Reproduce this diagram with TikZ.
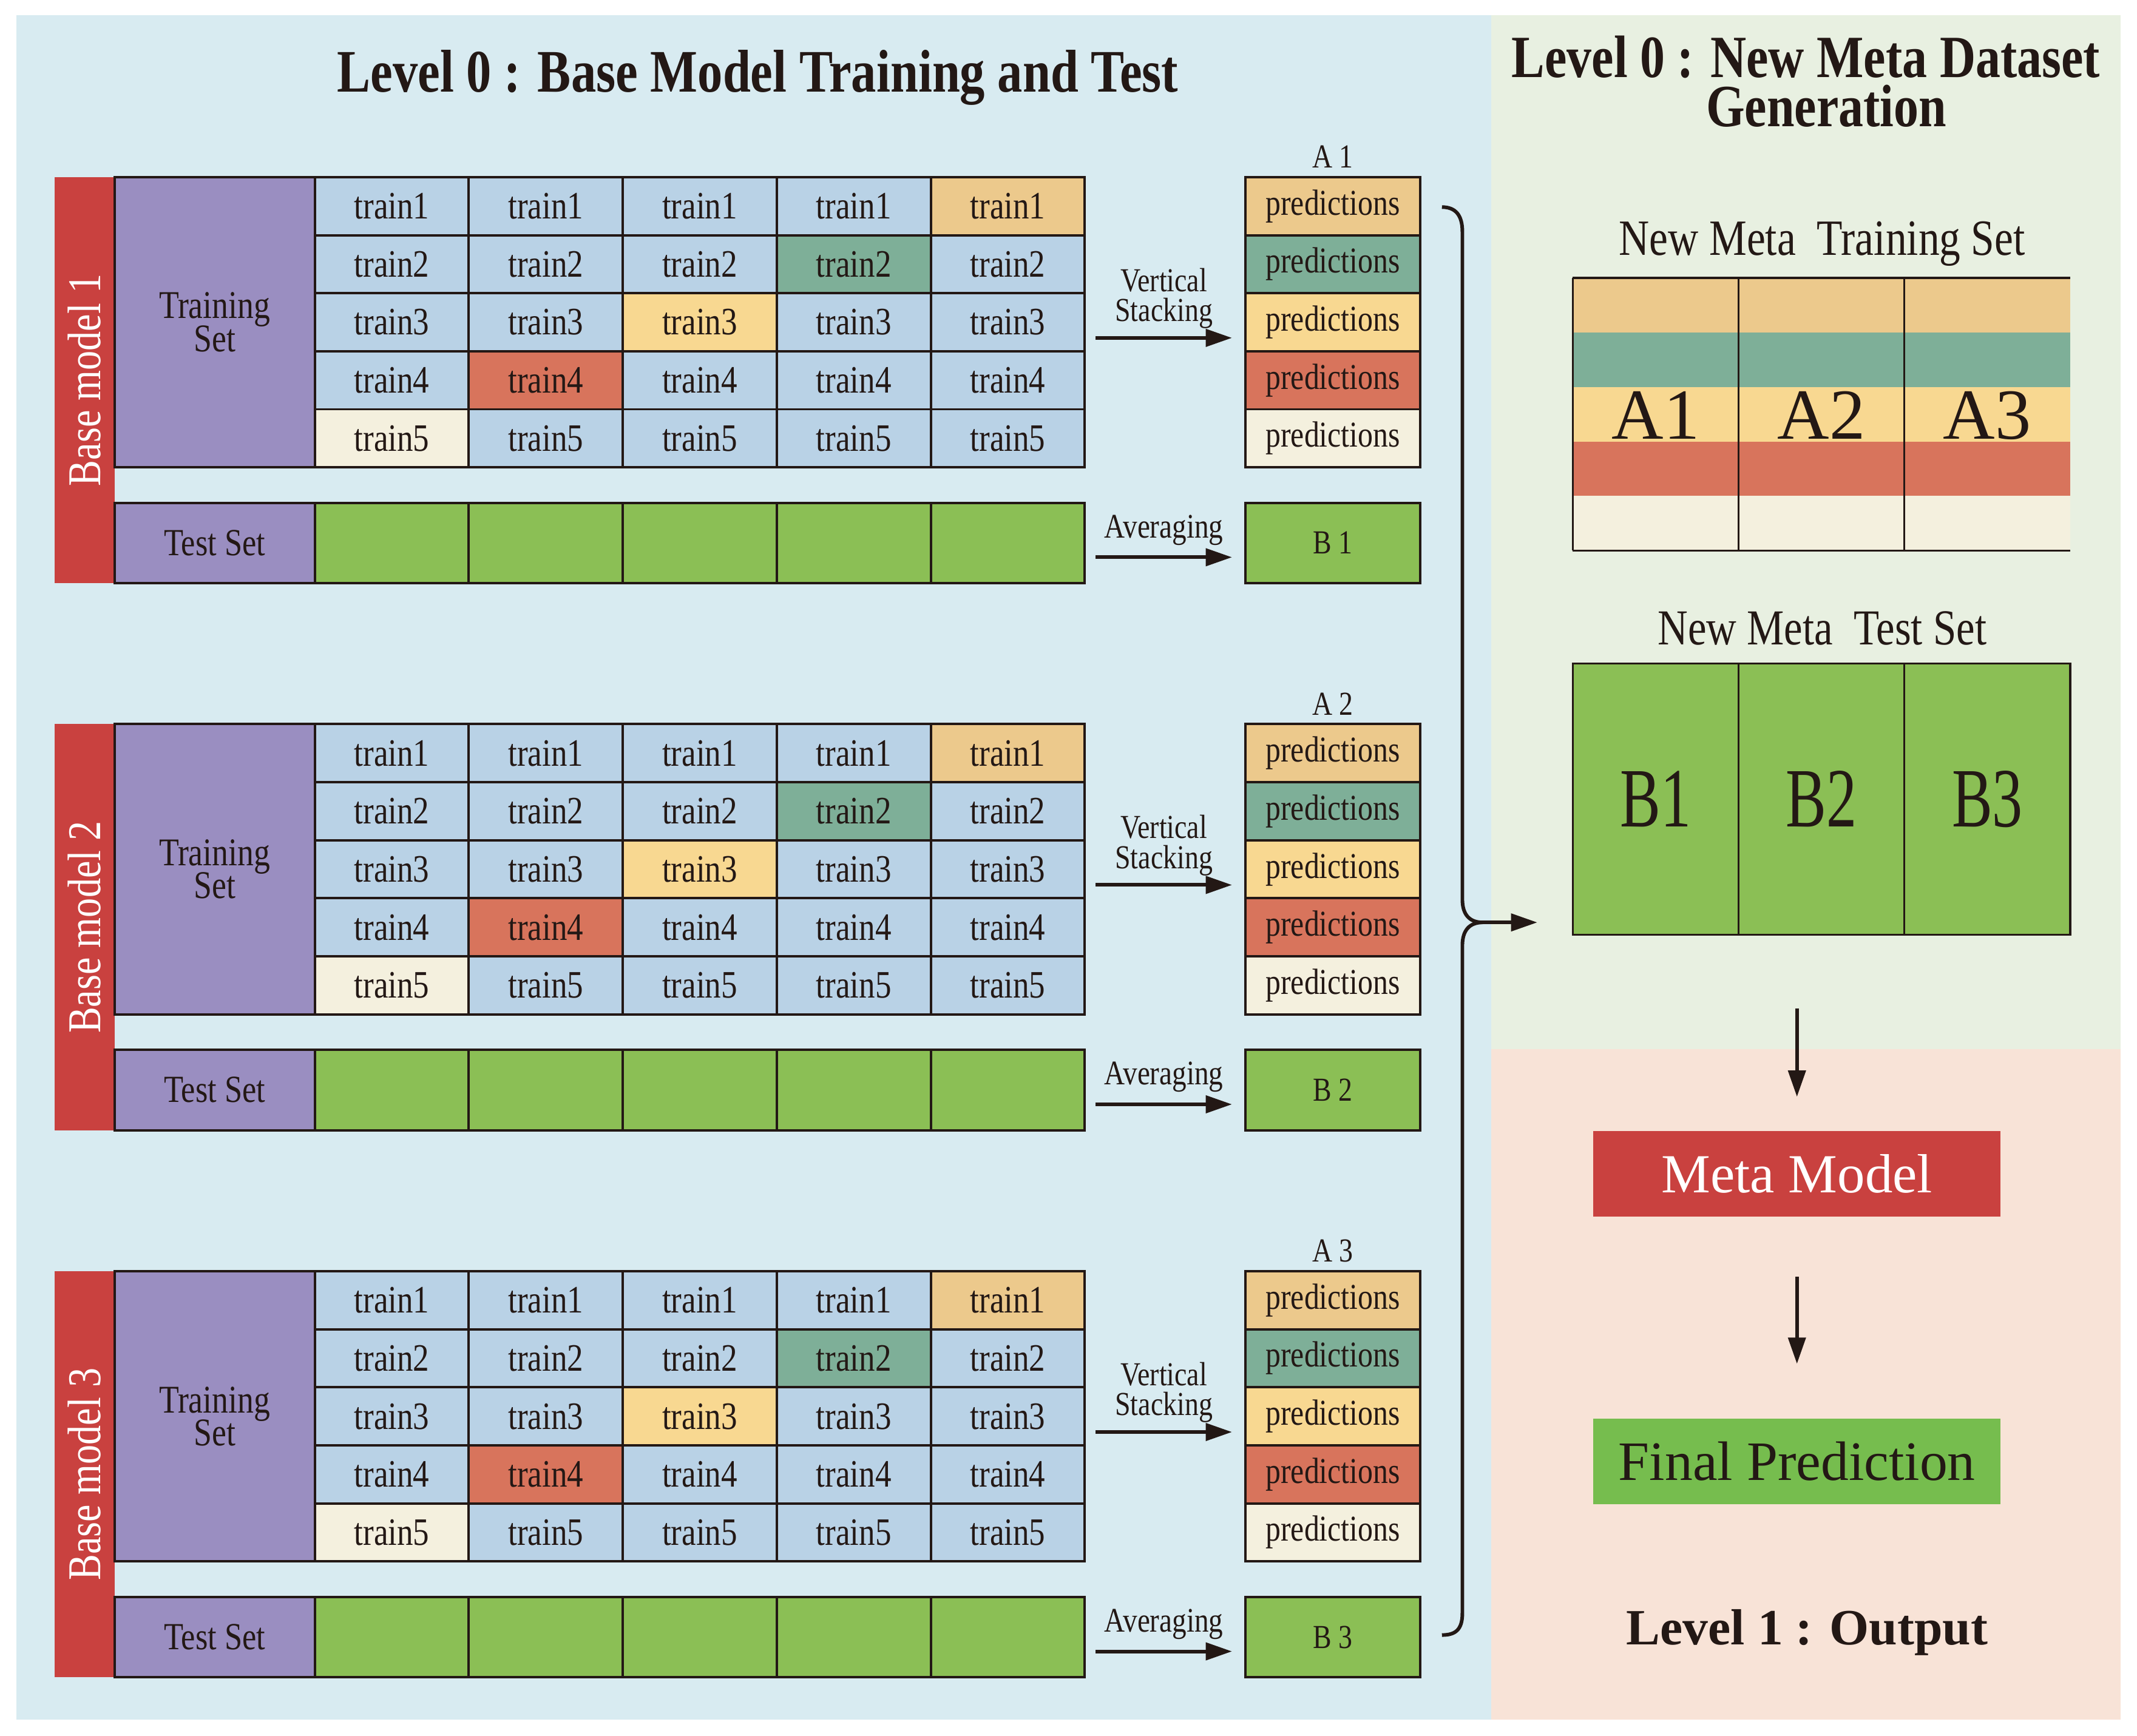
\documentclass[tikz,border=0pt]{standalone}
\usepackage{fontspec}
\setmainfont[FakeStretch=0.83]{Liberation Serif}
\newfontfamily\plainserif{Liberation Serif}
\newfontfamily\tallserif[FakeStretch=0.72]{Liberation Serif}
\usetikzlibrary{arrows.meta,calc}
\newlength\pxu \setlength\pxu{0.01cm}
\definecolor{bluebg}{HTML}{D8EBF1}
\definecolor{greenbg}{HTML}{E8F0E1}
\definecolor{peachbg}{HTML}{F8E3D7}
\definecolor{redbar}{HTML}{C9413F}
\definecolor{purp}{HTML}{9A8EC1}
\definecolor{hl0}{HTML}{B9D2E6}
\definecolor{hl1}{HTML}{ECC98C}
\definecolor{hl2}{HTML}{7EAF98}
\definecolor{hl3}{HTML}{F8D891}
\definecolor{hl4}{HTML}{D8745C}
\definecolor{hl5}{HTML}{F4F0DE}
\definecolor{testgreen}{HTML}{8BBF55}
\definecolor{finalgreen}{HTML}{76BD4E}
\definecolor{linec}{HTML}{231815}
\begin{document}
\begin{tikzpicture}[x=0.01cm, y=-0.01cm,
  cell/.style={draw=linec, line width=0.5pt, inner sep=0pt, outer sep=0pt, anchor=north west,
    minimum width=113\pxu, minimum height=42.6\pxu, font=\fontsize{8.1}{9}\selectfont, text=linec},
  predcell/.style={cell, minimum width=128\pxu, font=\fontsize{7.6}{9}\selectfont},
  setbox/.style={draw=linec, line width=0.5pt, fill=purp, inner sep=0pt, outer sep=0pt, anchor=north west,
    minimum width=147\pxu, align=center, text=linec},
  greencell/.style={cell, fill=testgreen, minimum height=59\pxu},
  lab/.style={align=center, inner sep=0pt, text=linec},
  arr/.style={line width=0.75pt, draw=linec, -{Triangle[length=5.5pt,width=3.6pt]}},
  thinline/.style={draw=linec, line width=0.4pt},
  bigbox/.style={minimum width=299\pxu, minimum height=63\pxu, inner sep=0pt, outer sep=0pt},
]
\useasboundingbox (0,0) rectangle (1568,1274);
\fill[white] (0,0) rectangle (1568,1274);
\fill[bluebg] (12,11) rectangle (1094,1262);
\fill[greenbg] (1094,11) rectangle (1556,770);
\fill[peachbg] (1094,770) rectangle (1556,1262);

\node[lab, font=\fontsize{12.6}{14}\selectfont\bfseries] (title0) at (556,57) {Level 0 : Base Model Training and Test};

\foreach \m in {1,2,3}{
  \pgfmathsetmacro{\oy}{130+401.5*(\m-1)}
  \node[rotate=90, fill=redbar, minimum width=298\pxu, minimum height=44\pxu, inner sep=0pt, outer sep=0pt,
    text=white, font=\fontsize{9.8}{11}\selectfont] (bar\m) at (62,{\oy+149}) {Base model \m};
  \node[setbox, minimum height=213\pxu, font={\fontsize{8.2}{6.9}\selectfont\lineskiplimit=-20pt}] (ts\m) at (84,\oy) {Training\\Set};
  \foreach \r in {1,...,5}{
    \foreach \c in {1,...,5}{
      \pgfmathtruncatemacro{\hl}{(\r+\c==6)?\r:0}
      \node[cell, fill=hl\hl] (m\m-r\r-c\c) at ({231+113*(\c-1)},{\oy+42.6*(\r-1)}) {train\r};
    }
    \node[predcell, fill=hl\r] (m\m-p\r) at (914,{\oy+42.6*(\r-1)}) {predictions};
  }
  \node[setbox, minimum height=59\pxu, font=\fontsize{8}{9}\selectfont] (test\m) at (84,{\oy+239}) {Test Set};
  \foreach \c in {1,...,5}{
    \node[greencell] (m\m-t\c) at ({231+113*(\c-1)},{\oy+239}) {};
  }
  \node[greencell, minimum width=128\pxu, font=\fontsize{7}{8}\selectfont] (b\m) at (914,{\oy+239}) {B \m};
  \node[lab, font=\fontsize{7}{8}\selectfont] (alab\m) at (978,{\oy-15}) {A \m};
  \node[lab, font={\fontsize{7}{6.3}\selectfont\lineskiplimit=-20pt}] (vs\m) at (854,{\oy+89}) {Vertical\\Stacking};
  \node[lab, font=\fontsize{7.2}{8}\selectfont] (av\m) at (854,{\oy+259}) {Averaging};
  \coordinate (vsa\m) at (804,{\oy+118});
  \draw[arr, shorten >=10\pxu] (vsa\m) -- (vsa\m -| m\m-p1.west);
  \coordinate (ava\m) at (804,{\oy+279});
  \draw[arr, shorten >=10\pxu] (ava\m) -- (ava\m -| b\m.west);
}

% brace
\coordinate (cusp) at (1088,677);
\draw[line width=0.75pt, draw=linec] (1058,152) .. controls (1068,152) and (1073,158) .. (1073,170)
  -- (1073,660) .. controls (1073,671) and (1078,677) .. (cusp)
  .. controls (1078,677) and (1073,683) .. (1073,694)
  -- (1073,1184) .. controls (1073,1196) and (1068,1200) .. (1058,1200);

% right panel
\node[lab, anchor=base, font=\fontsize{12.5}{14}\selectfont\bfseries] (title1a) at (1325,57) {Level 0 : New Meta Dataset};
\node[lab, anchor=base, font=\fontsize{12.5}{14}\selectfont\bfseries] (title1b) at (1340,93) {Generation};
\node[lab, font=\fontsize{10.6}{12}\selectfont] (mtlab) at (1337,179) {New Meta~~Training Set};
\foreach \r in {1,...,5}{
  \foreach \c in {1,2,3}{
    \node[anchor=north west, fill=hl\r, minimum width=121.7\pxu, minimum height=40\pxu, inner sep=0pt, outer sep=0pt]
      (mt-r\r-c\c) at ({1154+121.67*(\c-1)},{204+40*(\r-1)}) {};
  }
}
\draw[thinline] (mt-r1-c1.north west) -- (mt-r1-c3.north east);
\draw[thinline] (mt-r5-c1.south west) -- (mt-r5-c3.south east);
\foreach \c in {1,2,3}{
  \draw[thinline] (mt-r1-c\c.north west) -- (mt-r5-c\c.south west);
  \node[anchor=base, inner sep=0pt, text=linec, font=\plainserif\fontsize{15}{16}\selectfont] (aa\c) at ({1154+121.67*(\c-1)+60.8},322) {A\c};
}
\node[lab, font=\fontsize{10.5}{12}\selectfont] (mtest) at (1337,461) {New Meta~~Test Set};
\foreach \c in {1,2,3}{
  \node[anchor=north west, draw=linec, line width=0.4pt, fill=testgreen, minimum width=121.7\pxu, minimum height=199\pxu,
    inner sep=0pt, outer sep=0pt, text=linec, font=\tallserif\fontsize{17.6}{18}\selectfont] (tb\c) at ({1154+121.67*(\c-1)},487) {B\c};
}
\draw[arr, shorten >=26\pxu] (cusp) -- (cusp -| tb1.west);

\node[bigbox, fill=redbar, text=white, font=\plainserif\fontsize{11.5}{12}\selectfont] (meta) at (1318.5,861.5) {Meta Model};
\node[bigbox, fill=finalgreen, text=linec, font=\plainserif\fontsize{11.6}{12}\selectfont] (final) at (1318.5,1072.5) {Final Prediction};
\draw[arr, shorten <=54\pxu, shorten >=25\pxu] (meta.north |- tb2.south) -- (meta.north);
\draw[arr, shorten <=44\pxu, shorten >=40\pxu] (meta.south) -- (final.north);
\node[lab, font=\plainserif\bfseries\fontsize{10.6}{12}\selectfont] (lvl1) at (1326,1198) {Level 1 : Output};
\end{tikzpicture}
\end{document}
